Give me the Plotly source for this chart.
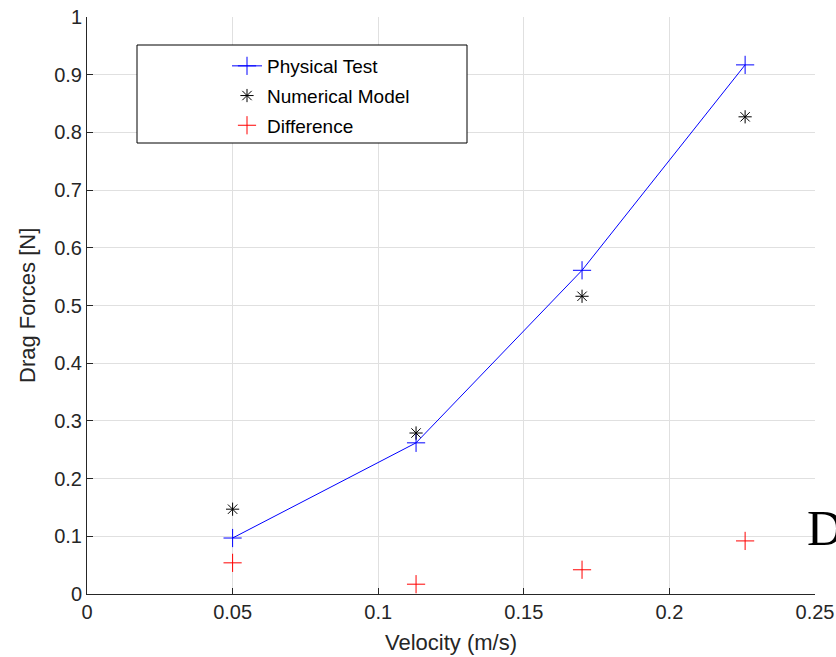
import plotly.graph_objects as go

velocity = [0.05, 0.113, 0.17, 0.226]
physical_test = [0.097, 0.262, 0.561, 0.917]
numerical_model = [0.147, 0.279, 0.516, 0.827]
difference = [0.054, 0.017, 0.042, 0.092]

x_ticks = [0, 0.05, 0.1, 0.15, 0.2, 0.25]
x_tick_labels = ["0", "0.05", "0.1", "0.15", "0.2", "0.25"]
y_ticks = [0, 0.1, 0.2, 0.3, 0.4, 0.5, 0.6, 0.7, 0.8, 0.9, 1]
y_tick_labels = ["0", "0.1", "0.2", "0.3", "0.4", "0.5", "0.6", "0.7", "0.8", "0.9", "1"]

FONT = "Liberation Sans, Arial, sans-serif"
TXT = "#262626"

fig = go.Figure()
fig.add_trace(go.Scatter(
    x=velocity, y=physical_test, mode="lines+markers", name="Physical Test",
    line=dict(color="#0000ff", width=1),
    marker=dict(symbol="cross-thin", size=13, line=dict(color="#0000ff", width=1)),
    legendgroup="a", cliponaxis=False))
fig.add_trace(go.Scatter(
    x=velocity, y=numerical_model, mode="markers", name="Numerical Model",
    marker=dict(symbol="asterisk", size=11, line=dict(color="#000000", width=1)),
    legendgroup="b", cliponaxis=False))
fig.add_trace(go.Scatter(
    x=velocity, y=difference, mode="markers", name="Difference",
    marker=dict(symbol="cross-thin", size=13, line=dict(color="#ff0000", width=1)),
    legendgroup="c", cliponaxis=False))

W, H = 836, 657
L, R, T, B = 87, 21, 17, 63
pw, ph = W - L - R, H - T - B

def px(xp):
    return (xp - L) / pw

def py(yp):
    return (H - B - yp) / ph

# legend box
fig.add_shape(type="rect", xref="paper", yref="paper",
              x0=px(137), x1=px(467), y0=py(143), y1=py(45),
              line=dict(color="#000000", width=1), fillcolor="white", layer="above")

fig.add_annotation(text="D", xref="paper", yref="paper", x=px(805), y=py(528),
                   xanchor="left", yanchor="middle", showarrow=False,
                   font=dict(family="Liberation Serif, Times New Roman, serif", size=50, color="#000000"))

# axis titles
fig.add_annotation(text="Velocity (m/s)", xref="paper", yref="paper", x=px(451), y=py(642),
                   xanchor="center", yanchor="middle", showarrow=False,
                   font=dict(family=FONT, size=22, color=TXT))
fig.add_annotation(text="Drag Forces [N]", xref="paper", yref="paper", x=px(27), y=py(306),
                   xanchor="center", yanchor="middle", showarrow=False, textangle=-90,
                   font=dict(family=FONT, size=22, color=TXT))

fig.update_layout(
    width=W, height=H,
    margin=dict(l=L, r=R, t=T, b=B, autoexpand=False),
    paper_bgcolor="white", plot_bgcolor="white",
    font=dict(family=FONT, color=TXT, size=17),
    showlegend=True,
    legend=dict(x=px(227), y=py(47), xanchor="left", yanchor="top",
                bgcolor="rgba(0,0,0,0)", borderwidth=0,
                font=dict(family=FONT, size=19, color="#000000"),
                traceorder="grouped", tracegroupgap=2),
    xaxis=dict(range=[0, 0.25], tickvals=x_ticks, ticktext=x_tick_labels,
               automargin=False,
               showgrid=True, gridcolor="#e0e0e0", gridwidth=1,
               zeroline=False, showline=True, linecolor="#262626", linewidth=1,
               ticks="inside", ticklen=6, tickcolor="#262626",
               tickfont=dict(size=20, color=TXT, family=FONT),
               mirror=False),
    yaxis=dict(range=[0, 1], tickvals=y_ticks, ticktext=y_tick_labels,
               automargin=False,
               showgrid=True, gridcolor="#e0e0e0", gridwidth=1,
               zeroline=False, showline=True, linecolor="#262626", linewidth=1,
               ticks="inside", ticklen=6, tickcolor="#262626",
               tickfont=dict(size=20, color=TXT, family=FONT),
               mirror=False),
)

fig.write_html("out.html")
